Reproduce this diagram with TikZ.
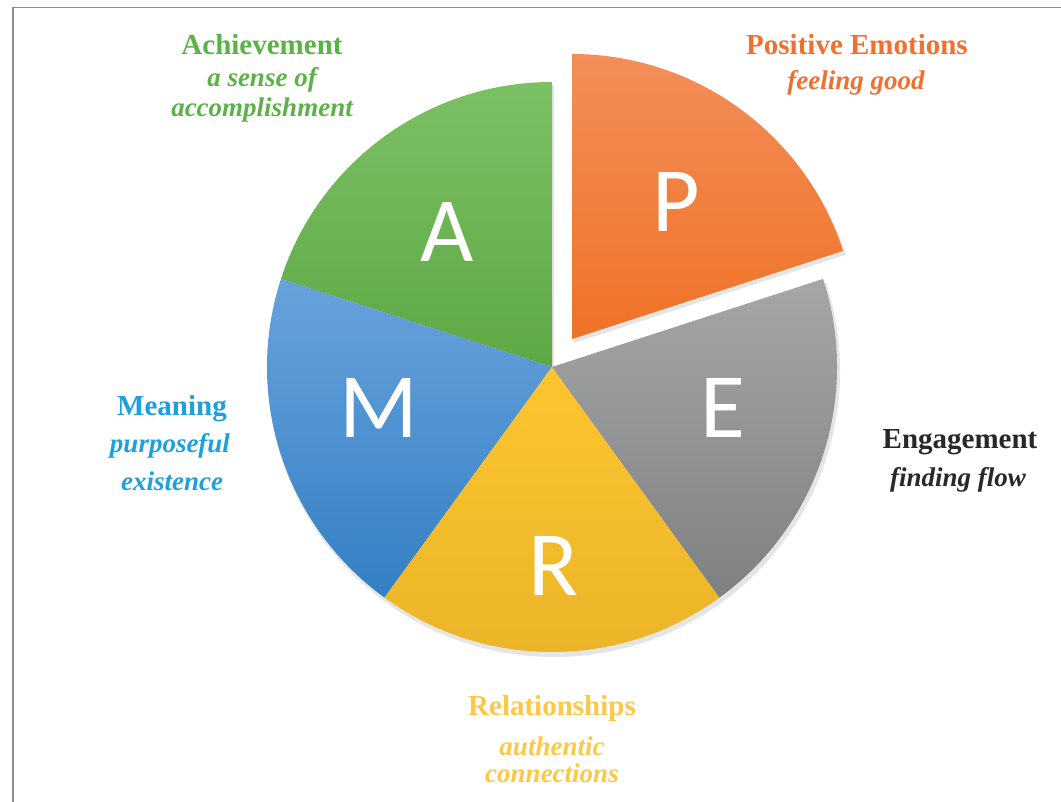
\documentclass[tikz,border=0pt]{standalone}
\usepackage{fontspec}
\setmainfont{Liberation Serif}
\newfontfamily\letterfont{Carlito}
\definecolor{greenT}{RGB}{124,192,100}
\definecolor{greenB}{RGB}{94,168,68}
\definecolor{orangeT}{RGB}{243,142,88}
\definecolor{orangeB}{RGB}{239,114,38}
\definecolor{grayT}{RGB}{164,166,168}
\definecolor{grayB}{RGB}{126,128,130}
\definecolor{yellowT}{RGB}{253,197,48}
\definecolor{yellowB}{RGB}{234,180,40}
\definecolor{blueT}{RGB}{104,162,220}
\definecolor{blueB}{RGB}{52,128,196}
\definecolor{achgreen}{RGB}{92,178,72}
\definecolor{posorange}{RGB}{240,112,48}
\definecolor{enggray}{RGB}{40,40,40}
\definecolor{meanblue}{RGB}{30,160,220}
\definecolor{relyellow}{RGB}{252,200,70}
\definecolor{framegray}{RGB}{140,140,140}
\begin{document}
\begin{tikzpicture}[x=1pt,y=1pt,
  slicelabel/.style={text=white, font=\letterfont\fontsize{92}{92}\selectfont, anchor=base, inner sep=0pt},
  headlabel/.style={font=\bfseries\fontsize{29}{32}\selectfont, anchor=base, inner sep=0pt},
  sublabel/.style={font=\bfseries\itshape\fontsize{27}{30}\selectfont, anchor=base, inner sep=0pt},
  sliceshadow/.style={fill=black, opacity=0.10},
]
\useasboundingbox (0,0) rectangle (1061,-802);
\fill[white] (0,0) rectangle (1061,-802);
\draw[framegray, line width=1.5pt] (13,-802) -- (13,-7.5) -- (1061,-7.5);

\coordinate (C) at (552,-367);
\coordinate (CP) at (572,-339);

% shadows
\foreach \a/\b in {90/162,162/234,234/306,306/378}{
  \fill[sliceshadow] ([shift={(2,-4)}]C) -- ++(\a:286) arc[start angle=\a, end angle=\b, radius=286] -- cycle;
}
\fill[sliceshadow] ([shift={(2,-4)}]CP) -- ++(18:286) arc[start angle=18, end angle=90, radius=286] -- cycle;

% slices
\shade[top color=greenT, bottom color=greenB] (C) -- ++(90:285) arc[start angle=90, end angle=162, radius=285] -- cycle;
\shade[top color=blueT, bottom color=blueB] (C) -- ++(162:285) arc[start angle=162, end angle=234, radius=285] -- cycle;
\shade[top color=yellowT, bottom color=yellowB] (C) -- ++(234:285) arc[start angle=234, end angle=306, radius=285] -- cycle;
\shade[top color=grayT, bottom color=grayB] (C) -- ++(306:285) arc[start angle=306, end angle=378, radius=285] -- cycle;
\shade[top color=orangeT, bottom color=orangeB] (CP) -- ++(18:285) arc[start angle=18, end angle=90, radius=285] -- cycle;

% letters
\node[slicelabel] (lA) at (447,-262) {A};
\node[slicelabel] (lP) at (676,-232) {P};
\node[slicelabel] (lM) at (379,-437) {M};
\node[slicelabel] (lE) at (723,-437) {E};
\node[slicelabel] (lR) at (553,-595) {R};

% labels
\node[headlabel, text=achgreen] (achT) at (262,-55) {Achievement};
\node[sublabel, text=achgreen] (achS1) at (262,-87) {a sense of};
\node[sublabel, text=achgreen] (achS2) at (262,-117) {accomplishment};

\node[headlabel, text=posorange] (posT) at (857,-55) {Positive Emotions};
\node[sublabel, text=posorange] (posS) at (856,-90) {feeling good};

\node[headlabel, text=enggray] (engT) at (960,-449) {Engagement};
\node[sublabel, text=enggray] (engS) at (958,-486) {finding flow};

\node[headlabel, text=meanblue] (meanT) at (172,-416) {Meaning};
\node[sublabel, text=meanblue] (meanS1) at (170,-452) {purposeful};
\node[sublabel, text=meanblue] (meanS2) at (172,-490) {existence};

\node[headlabel, text=relyellow] (relT) at (552,-715) {Relationships};
\node[sublabel, text=relyellow] (relS1) at (552,-755) {authentic};
\node[sublabel, text=relyellow] (relS2) at (552,-782) {connections};
\end{tikzpicture}
\end{document}
